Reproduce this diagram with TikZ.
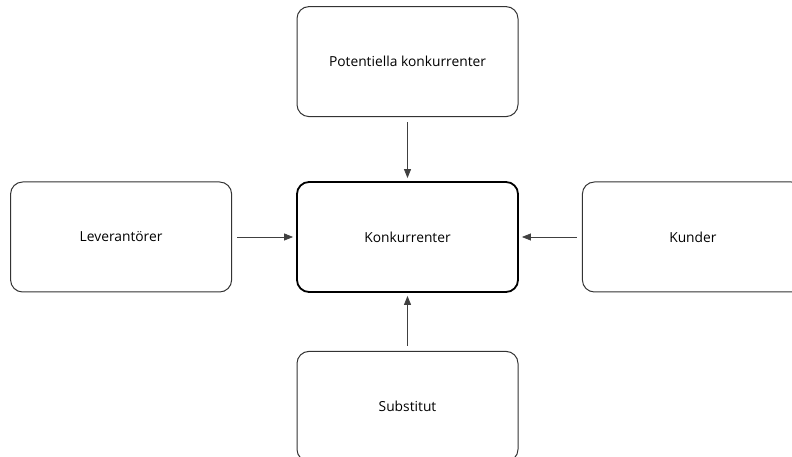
\documentclass[tikz,border=0pt]{standalone}
\usepackage{fontspec}
\setmainfont{Open Sans}
\usetikzlibrary{arrows.meta, positioning}

\begin{document}
\begin{tikzpicture}
    [
        x = 1pt, y = 1pt,
        force/.style = {
            rectangle, rounded corners=12pt, draw=black!80, line width=1pt,
            minimum width=221pt, minimum height=110pt,
            font=\fontsize{13.8}{16}\selectfont
            },
        rival/.style = {
            force, draw=black, line width=1.8pt
            },
        pressure/.style = {
            -{Triangle[length=9pt, width=7pt]}, draw=black!75, line width=0.8pt,
            shorten <=5pt, shorten >=3pt
            },
        node distance = 64pt and 64pt,
    ]
    \useasboundingbox (0,0) rectangle (792,457);
    %nodes
    \node[rival] (konkurrenter) at (407.5,220) {Konkurrenter};
    \node[force] (potentiella) [above=64pt of konkurrenter] {Potentiella konkurrenter};
    \node[force] (leverantorer) [left=64pt of konkurrenter] {Leverantörer};
    \node[force] (kunder) [right=63pt of konkurrenter] {Kunder};
    \node[force] (substitut) [below=58pt of konkurrenter] {Substitut};
    %connecting nodes
    \draw[pressure] (potentiella) to (konkurrenter);
    \draw[pressure] (leverantorer) to (konkurrenter);
    \draw[pressure] (kunder) to (konkurrenter);
    \draw[pressure] (substitut) to (konkurrenter);
\end{tikzpicture}
\end{document}
